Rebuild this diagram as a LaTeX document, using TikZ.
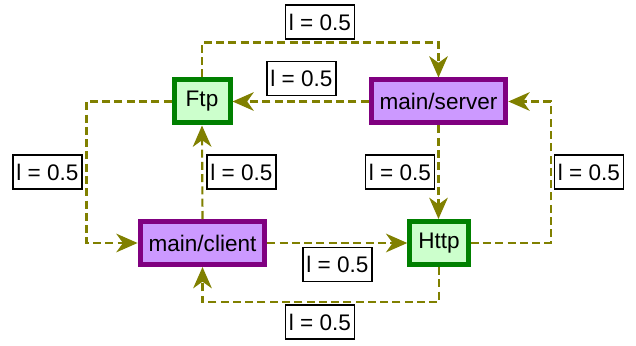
\documentclass[tikz,border=0pt]{standalone}
\usepackage{fontspec}
\setmainfont{Liberation Sans}
\usetikzlibrary{arrows.meta}
\definecolor{pkgfill}{HTML}{CCFFCC}
\definecolor{pkgdraw}{HTML}{008000}
\definecolor{mainfill}{HTML}{CC99FF}
\definecolor{maindraw}{HTML}{800080}
\definecolor{linkcol}{HTML}{808000}
\tikzset{
    pkg/.style={draw=pkgdraw, fill=pkgfill, line width=3.75pt, minimum width=42pt, minimum height=32.25pt, inner xsep=6.4pt},
    mainpkg/.style={pkg, draw=maindraw, fill=mainfill},
    link/.style={draw=linkcol, line width=1.6pt, dash pattern=on 6pt off 3.2pt, -{Stealth[length=16pt, width=14pt, inset=5pt]}},
    lbl/.style={draw, fill=white, line width=1pt, inner xsep=2.5pt, minimum height=25.5pt}
}
\begin{document}
\begin{tikzpicture}[x=0.75pt, y=-0.75pt, every node/.style={font=\fontsize{16.9}{20}\selectfont}]
    \useasboundingbox (0,0) rectangle (636,346);
    \node[pkg] (ftp) at (202,101.5) {Ftp};
    \node[mainpkg] (srv) at (438.5,101.5) {main/server};
    \node[mainpkg] (cli) at (202.5,243) {main/client};
    \node[pkg] (http) at (439,243) {Http};
    \draw[link] (ftp.north) -- ++(0,-35) -| (srv.north);
    \draw[link] (srv.west) -- (ftp.east);
    \draw[link] (ftp.west) -- ++(-85,0) |- (cli.west);
    \draw[link] (cli.north) -- (ftp.south);
    \draw[link] (srv.south) -- (srv.south |- http.north);
    \draw[link] (http.east) -- ++(80,0) |- (srv.east);
    \draw[link] (cli.east) -- (http.west);
    \draw[link] (http.south) -- ++(0,35) -| (cli.south);
    % labels
    \node[lbl] (l1) at (320,22) {l = 0.5};
    \node[lbl] (l2) at (301.5,78.5) {l = 0.5};
    \node[lbl] (l3) at (47.5,172) {l = 0.5};
    \node[lbl] (l4) at (241.5,172) {l = 0.5};
    \node[lbl] (l5) at (400,172) {l = 0.5};
    \node[lbl] (l6) at (589,172) {l = 0.5};
    \node[lbl] (l7) at (337.5,264.5) {l = 0.5};
    \node[lbl] (l8) at (320,322) {l = 0.5};
\end{tikzpicture}
\end{document}
